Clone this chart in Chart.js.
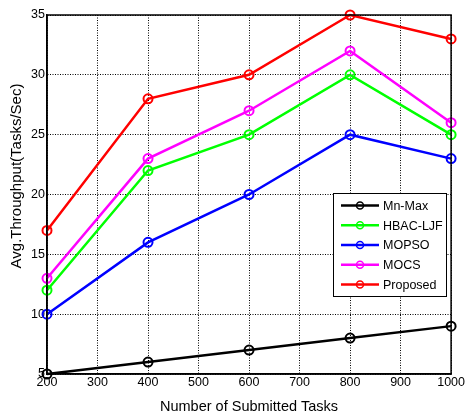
<!DOCTYPE html>
<html><head><meta charset="utf-8">
<script src="https://cdn.jsdelivr.net/npm/chart.js@4/dist/chart.umd.min.js"></script>
<style>html,body{margin:0;padding:0;background:#fff}#wrap{width:466px;height:416px}</style>
</head><body><div id="wrap"><canvas id="c" width="466" height="416"></canvas></div>
<script>
const tasks = [200, 400, 600, 800, 1000];
const mnMax = [5, 6, 7, 8, 9];
const hbacLjf = [12, 22, 25, 30, 25];
const mopso = [10, 16, 20, 25, 23];
const mocs = [13, 23, 27, 32, 26];
const proposed = [17, 28, 30, 35, 33];
const seriesNames = ['Mn-Max', 'HBAC-LJF', 'MOPSO', 'MOCS', 'Proposed'];
const seriesColors = ['#000000', '#00ff00', '#0000ff', '#ff00ff', '#ff0000'];
const seriesValues = [mnMax, hbacLjf, mopso, mocs, proposed];
const yTitle = 'Avg.Throughput(Tasks/Sec)';
const xTitle = 'Number of Submitted Tasks';

const FONT = 'Liberation Sans, Arial, sans-serif';

const datasets = seriesValues.map((vals, i) => ({
  label: seriesNames[i],
  data: tasks.map((t, j) => ({x: t, y: vals[j]})),
  borderColor: seriesColors[i],
  backgroundColor: 'rgba(0,0,0,0)',
  borderWidth: 2.5,
  pointRadius: 4.5,
  pointBorderWidth: 2,
  pointBackgroundColor: 'rgba(0,0,0,0)',
  pointBorderColor: seriesColors[i],
  tension: 0,
  clip: false
}));

const framePlugin = {
  id: 'frame',
  afterDatasetsDraw(chart) {
    const {ctx, chartArea: a} = chart;
    ctx.save();
    ctx.strokeStyle = '#000';
    ctx.lineWidth = 1.5;
    ctx.strokeRect(a.left, a.top, a.right - a.left, a.bottom - a.top);
    ctx.restore();
  },
  afterDraw(chart) {
    const {ctx} = chart;
    // y axis title
    ctx.save();
    ctx.translate(17, 176);
    ctx.rotate(-Math.PI / 2);
    ctx.font = '15px ' + FONT;
    ctx.fillStyle = '#000';
    ctx.textAlign = 'center';
    ctx.textBaseline = 'middle';
    ctx.fillText(yTitle, 0, 0);
    ctx.restore();
    // legend
    const x0 = 333, y0 = 193, w = 113, h = 103;
    ctx.save();
    ctx.fillStyle = '#fff';
    ctx.fillRect(x0, y0, w, h);
    ctx.strokeStyle = '#000';
    ctx.lineWidth = 1;
    ctx.strokeRect(x0 + 0.5, y0 + 0.5, w, h);
    ctx.font = '12.5px ' + FONT;
    ctx.textBaseline = 'middle';
    chart.data.datasets.forEach((ds, i) => {
      const y = y0 + 12.5 + i * 19.75;
      ctx.strokeStyle = ds.borderColor;
      ctx.lineWidth = 2.5;
      ctx.beginPath();
      ctx.moveTo(x0 + 8, y);
      ctx.lineTo(x0 + 46, y);
      ctx.stroke();
      ctx.lineWidth = 1.5;
      ctx.beginPath();
      ctx.arc(x0 + 27, y, 3.5, 0, Math.PI * 2);
      ctx.stroke();
      ctx.fillStyle = '#000';
      ctx.fillText(ds.label, x0 + 50, y + 1);
    });
    ctx.restore();
  }
};

new Chart(document.getElementById('c'), {
  type: 'line',
  data: {datasets},
  options: {
    responsive: false,
    animation: false,
    layout: {padding: {top: 15, right: 10, left: 0, bottom: 0}},
    plugins: {legend: {display: false}, tooltip: {enabled: false}},
    scales: {
      x: {
        type: 'linear', min: 200, max: 1000,
        ticks: {stepSize: 100, color: '#000', font: {family: FONT, size: 12.5}, padding: 1, maxRotation: 0,
                callback: v => String(v)},
        grid: {color: '#000', lineWidth: 1, drawTicks: false},
        border: {display: true, color: '#000', width: 1.5, dash: [1, 1.5]},
        title: {display: true, text: xTitle, color: '#000', font: {family: FONT, size: 14.5}, padding: {top: 2, bottom: 0}},
        afterFit(s) { s.height = 42; }
      },
      y: {
        min: 5, max: 35,
        ticks: {stepSize: 5, color: '#000', font: {family: FONT, size: 12.5}, padding: 2},
        grid: {color: '#000', lineWidth: 1, drawTicks: false},
        border: {display: true, color: '#000', width: 1.5, dash: [1, 1.5]},
        afterFit(s) { s.width = 47; }
      }
    }
  },
  plugins: [framePlugin]
});
</script></body></html>
